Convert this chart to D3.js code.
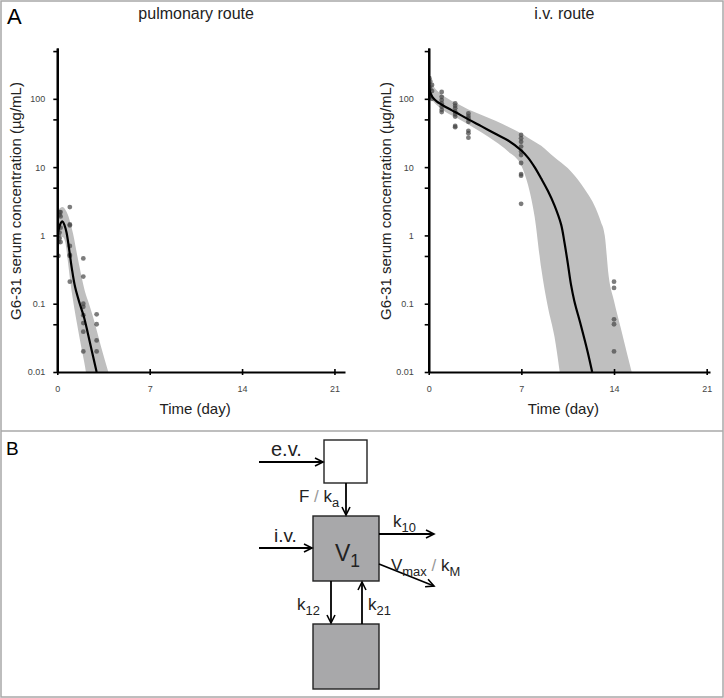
<!DOCTYPE html>
<html><head><meta charset="utf-8">
<script src="https://cdn.jsdelivr.net/npm/d3@7"></script>
<style>
body{margin:0;background:#fff}
svg{display:block}
text{font-family:Arial,"Liberation Sans",sans-serif}
</style>
</head><body>
<svg id="c" width="724" height="698"></svg>
<script>
// ---------- data ----------
const panelTitles = ["pulmonary route", "i.v. route"];
const xTicks = [0, 7, 14, 21];
const yTicks = [0.01, 0.1, 1, 10, 100];
const yMinorTicks = [0.05, 0.5, 5, 50, 500];
const yLabel = "G6-31 serum concentration (µg/mL)";
const xLabel = "Time (day)";

// pulmonary route
const pulmCurveT = [0, 0.1, 0.25, 0.4, 0.55, 0.7, 0.9, 1.1, 1.35, 1.7, 2.0, 2.3, 2.6, 2.98];
const pulmCurveC = [0.85, 1.2, 1.5, 1.6, 1.4, 1.1, 0.62, 0.33, 0.175, 0.1, 0.066, 0.038, 0.021, 0.01];
const pulmBandT = [0, 0.2, 0.4, 0.6, 0.8, 1.0, 1.2, 1.5, 1.8, 2.1, 2.4, 2.7, 3.0, 3.3, 3.6, 3.9];
const pulmBandLo = [0.5, 0.8, 0.95, 0.8, 0.42, 0.2, 0.11, 0.05, 0.024, 0.012, 0.005, 0.002, 0.001, 0.001, 0.001, 0.001];
const pulmBandHi = [2.3, 2.5, 2.6, 2.4, 2.0, 1.5, 1.05, 0.52, 0.27, 0.15, 0.1, 0.065, 0.04, 0.024, 0.015, 0.0095];
const pulmObsT = [0.08, 0.08, 0.08, 0.17, 0.17, 0.17, 0.17, 0.25, 0.25, 0.25, 0.25,
  0.95, 0.95, 0.95, 0.95, 0.95, 0.95, 0.95,
  1.97, 1.97, 1.97, 1.97, 1.97, 1.97, 1.97, 1.97,
  2.98, 2.98, 2.98, 2.98];
const pulmObsC = [0.5, 0.8, 1.0, 2.2, 2.0, 0.9, 1.1, 2.2, 1.9, 1.3, 0.8,
  2.6, 1.45, 1.4, 0.7, 0.52, 0.5, 0.21,
  0.46, 0.25, 0.1, 0.09, 0.068, 0.052, 0.039, 0.02,
  0.07, 0.05, 0.029, 0.02];

// i.v. route
const ivCurveT = [0, 0.1, 0.3, 0.6, 1, 1.5, 2, 3, 4, 5, 6, 7, 7.5, 8, 8.5, 9, 9.5, 10, 10.25, 10.5, 10.75, 11, 11.5, 12, 12.35];
const ivCurveC = [150, 125, 105, 92, 82, 72, 64, 50, 39.5, 31, 24.5, 17.5, 13.8, 10, 6.8, 4.5, 2.75, 1.45, 0.8, 0.4, 0.19, 0.11, 0.048, 0.02, 0.01];
const ivBandT = [0, 0.5, 1, 2, 3, 4, 5, 6, 7, 7.5, 8, 8.5, 9, 9.5, 10, 10.5, 11, 11.5, 12, 12.5, 13, 13.3, 13.6, 14, 14.5, 15, 15.5];
const ivBandLo = [110, 85, 70, 54, 42, 32, 24, 17, 10.5, 5.5, 1.9, 0.33, 0.09, 0.033, 0.007, 0.001, 0.001, 0.001, 0.001, 0.001, 0.001, 0.001, 0.001, 0.001, 0.001, 0.001, 0.001];
const ivBandHi = [200, 140, 115, 88, 70, 58, 48, 39, 31, 27, 23.5, 20.5, 17, 14, 11.7, 9.7, 7.6, 5.7, 4.1, 2.8, 1.6, 1.0, 0.25, 0.11, 0.045, 0.018, 0.0075];
const ivObsT = [0.05, 0.05, 0.05, 0.05, 0.12, 0.12, 0.12, 0.25, 0.25, 0.25,
  0.98, 0.98, 0.98, 0.98, 0.98, 0.98, 0.98,
  2, 2, 2, 2, 2, 2, 2, 2,
  3, 3, 3, 3, 3, 3, 3,
  6.98, 6.98, 6.98, 6.98, 6.98, 6.98, 6.98, 6.98, 6.98, 6.98,
  14, 14, 14, 14, 14];
const ivObsC = [200, 150, 120, 105, 180, 140, 110, 160, 130, 100,
  126, 107, 96, 86, 77, 69, 64,
  86, 79, 73, 65, 60, 55, 40, 38.5,
  61, 56, 52, 46, 34, 31.4, 27,
  29.6, 26.4, 23.5, 20, 17, 15, 11.5, 7.9, 7.5, 2.9,
  0.21, 0.17, 0.059, 0.05, 0.02];

// ---------- layout ----------
const svg = d3.select("#c");
const bandColor = "#bfbfbf";
const dotColor = "#444";

// frame
svg.append("rect").attr("x", 1).attr("y", 1).attr("width", 722).attr("height", 696)
  .attr("fill", "none").attr("stroke", "#a8a8a8").attr("stroke-width", 1.5);
svg.append("line").attr("x1", 1).attr("x2", 723).attr("y1", 431).attr("y2", 431)
  .attr("stroke", "#a8a8a8").attr("stroke-width", 1.5);

svg.append("text").attr("x", 7).attr("y", 24).attr("font-size", 22).text("A");
svg.append("text").attr("x", 6).attr("y", 455).attr("font-size", 19).text("B");

const panels = [
  {title: panelTitles[0], x0: 57.3, x1: 345, xMax: 21.8, labPad: 8, ylabX: 16,
   curveT: pulmCurveT, curveC: pulmCurveC, bandT: pulmBandT, bandLo: pulmBandLo, bandHi: pulmBandHi,
   obsT: pulmObsT, obsC: pulmObsC},
  {title: panelTitles[1], x0: 428.7, x1: 710, xMax: 21.25, labPad: 11, ylabX: 386,
   curveT: ivCurveT, curveC: ivCurveC, bandT: ivBandT, bandLo: ivBandLo, bandHi: ivBandHi,
   obsT: ivObsT, obsC: ivObsC}
];

panels.forEach((p, i) => {
  const x = d3.scaleLinear().domain([0, p.xMax]).range([p.x0, p.x1]);
  const y = d3.scaleLog().domain([0.01, 555]).range([372, 48]);
  const g = svg.append("g");
  const clipId = "clip" + i;
  svg.append("clipPath").attr("id", clipId).append("rect")
    .attr("x", p.x0).attr("y", 40).attr("width", p.x1 - p.x0).attr("height", 332);

  const plot = g.append("g").attr("clip-path", `url(#${clipId})`);
  const band = d3.area()
    .x((d, k) => x(p.bandT[k]))
    .y0((d, k) => y(p.bandLo[k]))
    .y1((d, k) => y(p.bandHi[k]))
    .curve(d3.curveMonotoneX);
  plot.append("path").attr("d", band(p.bandT)).attr("fill", bandColor);

  plot.selectAll("circle").data(p.obsT).join("circle")
    .attr("cx", (d) => x(d))
    .attr("cy", (d, k) => y(p.obsC[k]))
    .attr("r", 2.4)
    .attr("fill", dotColor).attr("fill-opacity", 0.7);

  const line = d3.line()
    .x((d, k) => x(p.curveT[k]))
    .y((d, k) => y(p.curveC[k]))
    .curve(d3.curveCatmullRom.alpha(0.5));
  plot.append("path").attr("d", line(p.curveT)).attr("fill", "none")
    .attr("stroke", "#000").attr("stroke-width", 2.2);

  // y axis
  const yAx = g.append("g").attr("transform", `translate(${p.x0},0)`)
    .call(d3.axisLeft(y).tickValues(yTicks).tickFormat(d3.format("~g"))
      .tickSize(4).tickSizeOuter(0).tickPadding(p.labPad));
  const yMin = g.append("g").attr("transform", `translate(${p.x0},0)`)
    .call(d3.axisLeft(y).tickValues(yMinorTicks).tickFormat("").tickSize(4).tickSizeOuter(0));
  [yAx, yMin].forEach(a => {
    a.select(".domain").attr("stroke", "#000").attr("stroke-width", 2.2);
    a.selectAll(".tick line").attr("stroke", "#000").attr("stroke-width", 1.6);
    a.selectAll("text").attr("font-size", 9).attr("fill", "#444")
      .attr("font-family", "Arial, 'Liberation Sans', sans-serif");
  });

  // x axis
  const xAx = g.append("g").attr("transform", `translate(0,372)`)
    .call(d3.axisBottom(x).tickValues(xTicks).tickSize(3).tickSizeOuter(0).tickPadding(11));
  xAx.select(".domain").attr("stroke", "#000").attr("stroke-width", 2.2);
  xAx.selectAll(".tick line").attr("y1", -3).attr("stroke", "#000").attr("stroke-width", 1.6);
  xAx.selectAll("text").attr("font-size", 9).attr("fill", "#444")
    .attr("font-family", "Arial, 'Liberation Sans', sans-serif");

  // labels
  svg.append("text").attr("x", (p.x0 + p.x1) / 2 - 5).attr("y", 19)
    .attr("text-anchor", "middle").attr("font-size", 16).attr("fill", "#222").text(p.title);
  svg.append("text").attr("x", (p.x0 + p.x1) / 2 - 6).attr("y", 414)
    .attr("text-anchor", "middle").attr("font-size", 15).attr("fill", "#222").text(xLabel);
  svg.append("text").attr("transform", `translate(${p.ylabX},201) rotate(-90)`)
    .attr("text-anchor", "middle").attr("dy", "0.35em").attr("font-size", 15).attr("fill", "#222").text(yLabel);
});

// ---------- panel B: compartment diagram ----------
const defs = svg.append("defs");
defs.append("marker").attr("id", "arr").attr("markerUnits", "userSpaceOnUse")
  .attr("markerWidth", 12).attr("markerHeight", 12).attr("refX", 9).attr("refY", 5)
  .attr("orient", "auto")
  .append("path").attr("d", "M1,1 L9,5 L1,9").attr("fill", "none")
  .attr("stroke", "#000").attr("stroke-width", 1.6);

const dg = svg.append("g");
const boxes = [
  {x: 324, y: 440, w: 43, h: 43, fill: "#fff"},
  {x: 313, y: 516, w: 66, h: 65, fill: "#a8a8aa"},
  {x: 313, y: 624, w: 66, h: 65, fill: "#a8a8aa"}
];
dg.selectAll("rect").data(boxes).join("rect")
  .attr("x", d => d.x).attr("y", d => d.y).attr("width", d => d.w).attr("height", d => d.h)
  .attr("fill", d => d.fill).attr("stroke", "#222").attr("stroke-width", 1.4);

const arrows = [
  [259, 462, 323, 462],
  [346, 483, 346, 515],
  [259, 548, 312, 548],
  [379, 534, 434, 534],
  [379, 564, 434, 586],
  [331, 581, 331, 623],
  [362, 624, 362, 582]
];
dg.selectAll("line").data(arrows).join("line")
  .attr("x1", d => d[0]).attr("y1", d => d[1]).attr("x2", d => d[2]).attr("y2", d => d[3])
  .attr("stroke", "#000").attr("stroke-width", 1.8).attr("marker-end", "url(#arr)");

function label(x, yb, parts, size) {
  const t = dg.append("text").attr("x", x).attr("y", yb).attr("font-size", size).attr("fill", "#222");
  parts.forEach(pt => {
    const s = t.append("tspan").text(pt.t);
    if (pt.sub) s.attr("font-size", size * 0.76).attr("dy", size * 0.28);
    if (pt.up) s.attr("dy", -size * 0.28);
    if (pt.fill) s.attr("fill", pt.fill);
  });
}
label(271, 456, [{t: "e.v."}], 20);
label(274, 542, [{t: "i.v."}], 19);
label(299, 502, [{t: "F"}, {t: " / ", fill: "#999"}, {t: "k"}, {t: "a", sub: true}], 17);
label(335, 561, [{t: "V"}, {t: "1", sub: true}], 23);
label(393, 527, [{t: "k"}, {t: "10", sub: true}], 17);
label(391, 571, [{t: "V"}, {t: "max", sub: true}, {t: " / ", up: true, fill: "#999"}, {t: "k"}, {t: "M", sub: true}], 17);
label(297, 610, [{t: "k"}, {t: "12", sub: true}], 17);
label(368, 610, [{t: "k"}, {t: "21", sub: true}], 17);
</script>
</body></html>
